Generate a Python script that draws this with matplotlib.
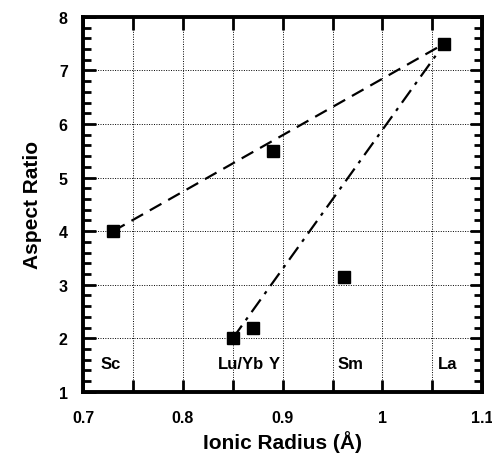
import matplotlib
matplotlib.use("Agg")
import matplotlib.pyplot as plt
from matplotlib.ticker import MultipleLocator, FixedLocator

plt.rcParams['font.family'] = ['Liberation Sans', 'DejaVu Sans']
plt.rcParams['font.weight'] = 'bold'

# data
radius = [0.730, 0.850, 0.870, 0.890, 0.961, 1.062]
aspect = [4.0, 2.0, 2.2, 5.5, 3.15, 7.5]

# trend lines (Sc -> La dashed, Lu/Yb -> La dash-dot)
dash_x = [0.730, 1.062]
dash_y = [4.0, 7.5]
dashdot_x = [0.850, 1.062]
dashdot_y = [2.0, 7.5]

elements = ["Sc", "Lu/Yb", "Y", "Sm", "La"]
elem_x = [0.728, 0.858, 0.892, 0.968, 1.065]
elem_y = 1.52

fig = plt.figure(figsize=(4.92, 4.60), dpi=100)
ax = fig.add_axes([0.169, 0.146, 0.811, 0.815])

ax.plot(dash_x, dash_y, color='black', lw=1.6, dashes=(6, 3.5))
ax.plot(dashdot_x, dashdot_y, color='black', lw=1.6, dashes=(7, 3, 1.5, 3))
ax.plot(radius, aspect, 's', color='black', ms=8, zorder=5)

for name, x in zip(elements, elem_x):
    ax.text(x, elem_y, name, ha='center', va='center', fontsize=12, fontweight='bold')

ax.set_xlim(0.7, 1.1)
ax.set_ylim(1, 8)
ax.xaxis.set_major_locator(FixedLocator([0.7, 0.75, 0.8, 0.85, 0.9, 0.95, 1.0, 1.05, 1.1]))
ax.set_xticklabels(["0.7", "", "0.8", "", "0.9", "", "1", "", "1.1"])
ax.yaxis.set_major_locator(MultipleLocator(1))
ax.yaxis.set_minor_locator(MultipleLocator(0.2))

ax.grid(True, which='major', color='black', linestyle=(0, (1, 1.5)), lw=0.7)
ax.tick_params(which='both', direction='in', top=True, right=True, labelsize=11.5)
ax.tick_params(axis='x', pad=13)
ax.tick_params(axis='y', pad=11)
ax.tick_params(which='major', length=9, width=2)
ax.tick_params(which='minor', length=6, width=2)
for s in ax.spines.values():
    s.set_linewidth(2.8)

ax.set_xlabel("Ionic Radius (\u00c5)", fontsize=15, fontweight='bold', labelpad=4)
ax.set_ylabel("Aspect Ratio", fontsize=15, fontweight='bold', labelpad=12)

fig.savefig("out.png", dpi=100)
